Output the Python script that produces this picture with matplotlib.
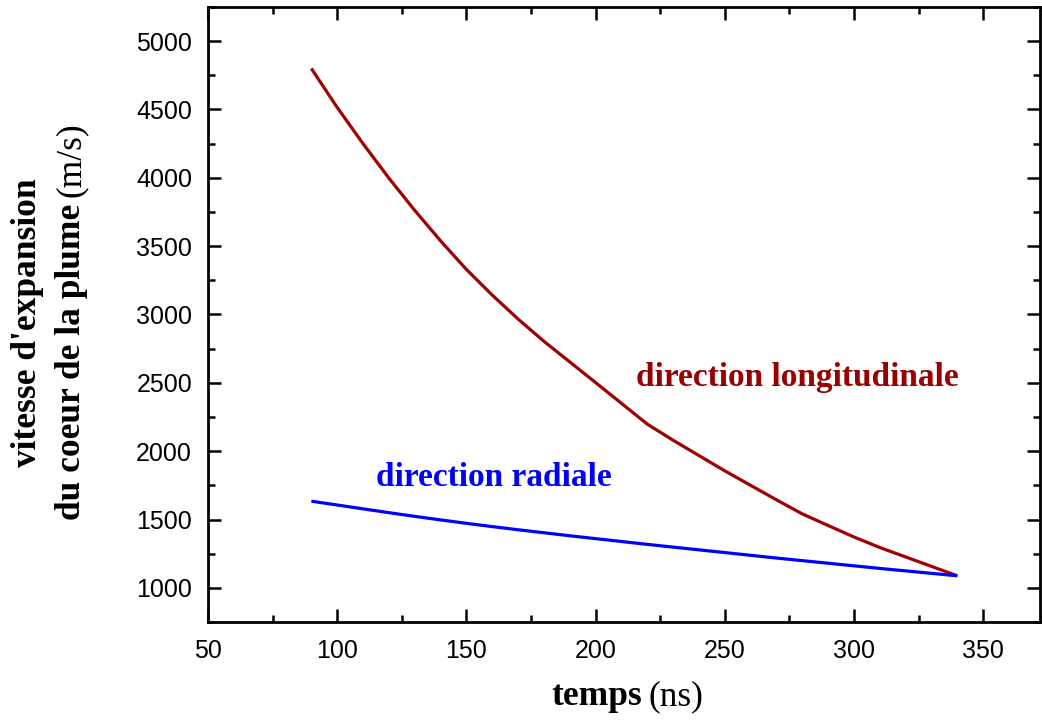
import numpy as np
import matplotlib
matplotlib.use('Agg')
import matplotlib.pyplot as plt
from matplotlib.ticker import MultipleLocator

# temps (ns) and expansion speeds (m/s)
temps = [90, 100, 110, 120, 130, 140, 150, 160, 170, 180, 190, 200, 210,
         220, 230, 240, 250, 260, 270, 280, 290, 300, 310, 320, 330, 340]
v_longi = [4800, 4515, 4250, 3998, 3762, 3539, 3330, 3142, 2967, 2804, 2653,
           2502, 2350, 2198, 2080, 1968, 1856, 1750, 1644, 1541, 1456, 1372,
           1295, 1226, 1157, 1088]
v_radial = [1634, 1606, 1578, 1550, 1523, 1497, 1472, 1448, 1425, 1403, 1381,
            1360, 1339, 1318, 1298, 1278, 1258, 1238, 1218, 1199, 1180, 1161,
            1142, 1124, 1106, 1088]

RED = '#a00000'
BLUE = '#0000ff'
SERIF = 'Liberation Serif'

fig = plt.figure(figsize=(10.42, 7.22), dpi=100)
ax = fig.add_axes([208 / 1042, 100 / 722, 832 / 1042, 615 / 722])

ax.plot(temps, v_longi, color=RED, lw=2.3, solid_capstyle='butt')
ax.plot(temps, v_radial, color=BLUE, lw=2.3, solid_capstyle='butt')

ax.set_xlim(50, 372)
ax.set_ylim(750, 5250)
ax.xaxis.set_major_locator(MultipleLocator(50))
ax.xaxis.set_minor_locator(MultipleLocator(25))
ax.yaxis.set_minor_locator(MultipleLocator(250))
ax.set_yticks(range(1000, 5001, 500))

for s in ax.spines.values():
    s.set_linewidth(2.0)
ax.tick_params(which='both', direction='in', top=True, right=True, width=1.8,
               labelsize=18)
ax.tick_params(axis='x', pad=12)
ax.tick_params(axis='y', pad=11.5)
ax.tick_params(which='major', length=9.5)
ax.tick_params(which='minor', length=5)
for lab in ax.get_xticklabels() + ax.get_yticklabels():
    lab.set_family('Liberation Sans')

ax.text(278, 2539, 'direction longitudinale', color='#990000', fontsize=24,
        fontweight='bold', family=SERIF, ha='center', va='center')
ax.text(160.7, 1808, 'direction radiale', color=BLUE, fontsize=24,
        fontweight='bold', family=SERIF, ha='center', va='center')

# axis labels: bold words followed by normal units
fig.canvas.draw()
r = fig.canvas.get_renderer()
W, H = fig.bbox.width, fig.bbox.height
FS = 25.5

t1 = fig.text(551 / W, 1 - 705 / H, 'temps', fontsize=FS, fontweight='bold',
              family=SERIF, ha='left', va='baseline')
bb = t1.get_window_extent(r)
fig.text((bb.x1 + 7) / W, 1 - 705 / H, '(ns)', fontsize=FS, family=SERIF,
         ha='left', va='baseline')

fig.text(36 / W, 1 - 467 / H, "vitesse d'expansion", fontsize=FS,
         fontweight='bold', family=SERIF, rotation=90, rotation_mode='anchor',
         ha='left', va='baseline')
t2 = fig.text(80 / W, 1 - 520 / H, 'du coeur de la plume', fontsize=FS,
              fontweight='bold', family=SERIF, rotation=90,
              rotation_mode='anchor', ha='left', va='baseline')
bb = t2.get_window_extent(r)
fig.text(80 / W, (bb.y1 + 7) / H, '(m/s)', fontsize=FS, family=SERIF,
         rotation=90, rotation_mode='anchor', ha='left', va='baseline')

fig.savefig('out.png', dpi=100)
